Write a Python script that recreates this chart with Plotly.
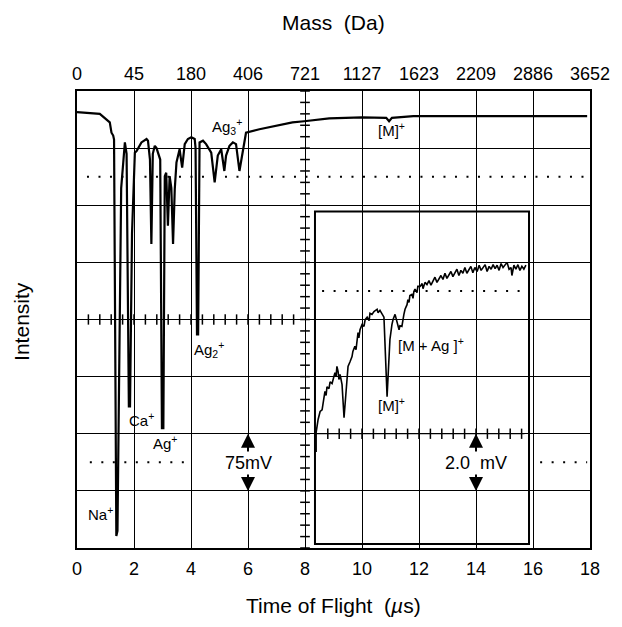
import numpy as np
import plotly.graph_objects as go

# ---- data (time in us, signal in screen divisions) ----
tof_main = [0.0, 0.8, 1.15, 1.21, 1.27, 1.30, 1.38, 1.42, 1.55, 1.68, 1.74, 1.82, 1.86, 1.93, 2.03,
            2.09, 2.26, 2.44, 2.49, 2.56, 2.61, 2.66, 2.73, 2.79, 2.92, 2.98, 3.03, 3.08, 3.13, 3.19,
            3.25, 3.31, 3.37, 3.43, 3.49, 3.60, 3.69, 3.78, 3.89, 4.01, 4.13, 4.16, 4.21, 4.25, 4.30,
            4.42, 4.53, 4.71, 4.83, 4.94, 5.06, 5.17, 5.23, 5.35, 5.47, 5.58, 5.70, 5.79, 5.87, 5.93,
            6.40, 6.98, 7.56, 7.97, 8.85, 10.0, 10.85, 10.95, 11.05, 11.8, 13.0, 14.0, 15.0, 16.0,
            17.0, 17.9]
sig_main = [7.63, 7.60, 7.45, 7.27, 7.22, 7.15, 0.21, 0.30, 6.30, 7.10, 6.90, 2.48, 2.48, 5.50, 6.92,
            6.95, 7.10, 7.16, 7.13, 6.80, 5.32, 6.90, 7.04, 7.00, 6.80, 2.10, 2.10, 6.51, 6.57, 5.64,
            6.51, 6.30, 5.32, 6.28, 6.75, 6.98, 6.66, 7.07, 7.16, 7.19, 7.16, 7.00, 3.74, 3.74, 7.10,
            7.13, 7.07, 6.92, 6.40, 6.87, 6.98, 6.60, 6.87, 7.04, 7.10, 7.07, 6.60, 6.87, 7.16, 7.27,
            7.33, 7.39, 7.45, 7.47, 7.52, 7.54, 7.53, 7.47, 7.53, 7.56, 7.56, 7.55, 7.56, 7.56,
            7.55, 7.56]

# expanded view (2.0 mV/div) of the [M]+ region
tof_inset = [8.39, 8.39, 8.46, 8.53, 8.60, 8.63, 8.70, 8.74, 8.77, 8.84, 8.88, 8.95, 9.02, 9.05, 9.09,
             9.12, 9.16, 9.19, 9.23, 9.30, 9.37, 9.44, 9.51, 9.58, 9.65, 9.68, 9.75, 9.79, 9.86, 9.89,
             9.93, 10.00, 10.07, 10.11, 10.18, 10.25, 10.28, 10.35, 10.42, 10.53, 10.56, 10.63, 10.70,
             10.77, 10.88, 10.95, 10.98, 11.05, 11.09, 11.16, 11.23, 11.30, 11.33, 11.40, 11.47, 11.51,
             11.58, 11.61, 11.65, 11.68, 11.75, 11.79, 11.82, 11.86, 11.93, 11.96, 12.04, 12.11, 12.14,
             12.21, 12.28, 12.35, 12.42, 12.49, 12.56, 12.63, 12.70, 12.77, 12.84, 12.91, 12.98, 13.05,
             13.12, 13.19, 13.26, 13.33, 13.40, 13.47, 13.54, 13.61, 13.68, 13.75, 13.82, 13.89, 13.96,
             14.04, 14.11, 14.18, 14.25, 14.32, 14.39, 14.46, 14.53, 14.60, 14.67, 14.74, 14.81, 14.88,
             14.95, 15.02, 15.09, 15.16, 15.23, 15.26, 15.33, 15.40, 15.47, 15.54, 15.61, 15.68, 15.75]
sig_inset = [1.68, 2.02, 2.25, 2.39, 2.42, 2.53, 2.74, 2.67, 2.82, 2.79, 2.91, 2.88, 3.02, 3.07, 3.00,
             3.18, 3.09, 2.95, 3.04, 2.86, 2.28, 2.77, 3.18, 3.26, 3.35, 3.44, 3.53, 3.47, 3.77, 3.68,
             3.82, 3.91, 3.88, 4.00, 4.04, 3.98, 4.11, 4.09, 4.14, 4.18, 4.12, 4.16, 4.11,
             4.04, 2.65, 3.30, 3.65, 3.91, 4.00, 4.09, 3.95, 3.82, 3.89, 3.88, 4.09, 4.18,
             4.26, 4.35, 4.30, 4.42, 4.44, 4.37, 4.49, 4.53, 4.47, 4.58, 4.58, 4.63, 4.54,
             4.65, 4.61, 4.68, 4.60, 4.67, 4.74, 4.65, 4.72, 4.77, 4.70, 4.81, 4.72, 4.77,
             4.84, 4.75, 4.82, 4.88, 4.77, 4.86, 4.81, 4.91, 4.81, 4.88, 4.93, 4.82, 4.91,
             4.84, 4.95, 4.86, 4.91, 4.96, 4.84, 4.93, 4.88, 4.96, 4.89, 4.95, 4.86, 4.98,
             4.91, 4.95, 5.00, 4.88, 4.91, 4.77, 4.95, 4.88, 4.96, 4.86, 4.93, 4.88, 4.95]

tof_ticks = [0, 2, 4, 6, 8, 10, 12, 14, 16, 18]
mass_labels = ["0", "45", "180", "406", "721", "1127", "1623", "2209", "2886", "3652"]

# peak labels: (text, tof, signal)
peak_labels = [
    ("Ag<sub>3</sub><sup>+</sup>", 5.26, 7.37),
    ("[M]<sup>+</sup>", 11.05, 7.33),
    ("Ag<sub>2</sub><sup>+</sup>", 4.63, 3.47),
    ("Ca<sup>+</sup>", 2.28, 2.25),
    ("Ag<sup>+</sup>", 3.09, 1.84),
    ("Na<sup>+</sup>", 0.81, 0.61),
    ("[M + Ag ]<sup>+</sup>", 12.42, 3.56),
    ("[M]<sup>+</sup>", 11.02, 2.51),
]

FONT = "Liberation Sans, Arial, sans-serif"

fig = go.Figure()

# scope graticule tick marks (5 per division)
tx, ty = [], []
for v in np.arange(0, 8.01, 0.2):           # along the vertical centre line
    tx += [7.83, 8.17, None]
    ty += [v, v, None]
for t in np.arange(0.4, 8.0, 0.4):          # along the horizontal centre line
    tx += [t, t, None]
    ty += [3.91, 4.09, None]
for t in np.arange(8.8, 15.7, 0.4):         # inset centre line
    tx += [t, t, None]
    ty += [1.91, 2.09, None]
fig.add_trace(go.Scatter(x=tx, y=ty, mode="lines", line=dict(color="black", width=1.5),
                         hoverinfo="skip", showlegend=False))

fig.add_trace(go.Scatter(x=tof_main, y=sig_main, mode="lines",
                         line=dict(color="black", width=2.2), showlegend=False))
fig.add_trace(go.Scatter(x=tof_inset, y=sig_inset, mode="lines",
                         line=dict(color="black", width=1.6), showlegend=False))
# dummy trace so the top mass axis is drawn
fig.add_trace(go.Scatter(x=[0], y=[0], xaxis="x2", mode="markers",
                         marker=dict(opacity=0), hoverinfo="skip", showlegend=False))

dot = dict(color="black", width=2, dash="2px,9.5px")
fig.add_shape(type="line", x0=0.35, x1=17.9, y0=6.5, y1=6.5, line=dot)
fig.add_shape(type="line", x0=0.45, x1=3.8, y0=1.5, y1=1.5, line=dot)
fig.add_shape(type="line", x0=16.25, x1=17.9, y0=1.5, y1=1.5, line=dot)
fig.add_shape(type="line", x0=8.6, x1=15.7, y0=4.5, y1=4.5, line=dot)
fig.add_shape(type="line", x0=8.35, x1=15.7, y0=2, y1=2, line=dict(color="black", width=1.2))
fig.add_shape(type="line", x0=0, x1=8, y0=4, y1=4, line=dict(color="black", width=1.2))

# inset frame
fig.add_shape(type="rect", x0=8.35, x1=15.86, y0=0.07, y1=5.89,
              line=dict(color="black", width=2))

for text, x, y in peak_labels:
    fig.add_annotation(x=x, y=y, text=text, showarrow=False,
                       font=dict(family=FONT, size=15, color="black"))

# scale bars
for x, label in [(6, "75mV"), (14, "2.0  mV")]:
    fig.add_annotation(x=x, y=2, ax=0, ay=22, text="", showarrow=True, arrowhead=2,
                       arrowsize=1.4, arrowwidth=2, arrowcolor="black")
    fig.add_annotation(x=x, y=1, ax=0, ay=-22, text="", showarrow=True, arrowhead=2,
                       arrowsize=1.4, arrowwidth=2, arrowcolor="black")
    fig.add_annotation(x=x, y=1.48, text=label, showarrow=False, bgcolor="white",
                       font=dict(family=FONT, size=18, color="black"))

# axis titles
title_font = dict(family=FONT, size=21, color="black")
fig.add_annotation(xref="paper", yref="paper", x=0.5, y=-0.125, xanchor="center", yanchor="middle",
                   text="Time of Flight  (<i>µ</i>s)", showarrow=False, font=title_font)
fig.add_annotation(xref="paper", yref="paper", x=0.5, y=1.15, xanchor="center", yanchor="middle",
                   text="Mass  (Da)", showarrow=False, font=title_font)
fig.add_annotation(xref="paper", yref="paper", x=-0.107, y=0.495, xanchor="center", yanchor="middle",
                   text="Intensity", textangle=-90, showarrow=False, font=title_font)

# page body adds an 8px offset, so the figure is shrunk to fit the window
fig.update_layout(
    width=614, height=619,
    margin=dict(l=69, r=32, t=83, b=79),
    paper_bgcolor="white", plot_bgcolor="white",
    font=dict(family=FONT, size=18, color="black"),
    xaxis=dict(range=[0, 18], tickvals=tof_ticks, showgrid=True, gridcolor="black", gridwidth=1,
               showline=True, linecolor="black", linewidth=2, mirror=True, zeroline=False,
               ticks="", ticklabelstandoff=3),
    xaxis2=dict(range=[0, 18], overlaying="x", side="top", tickvals=tof_ticks, ticktext=mass_labels,
                showgrid=False, zeroline=False, ticks="", ticklabelstandoff=6),
    yaxis=dict(range=[0, 8], dtick=1, showgrid=True, gridcolor="black", gridwidth=1,
               showline=True, linecolor="black", linewidth=2, mirror=True, zeroline=False,
               showticklabels=False, ticks=""),
)

fig.write_html("out.html")
